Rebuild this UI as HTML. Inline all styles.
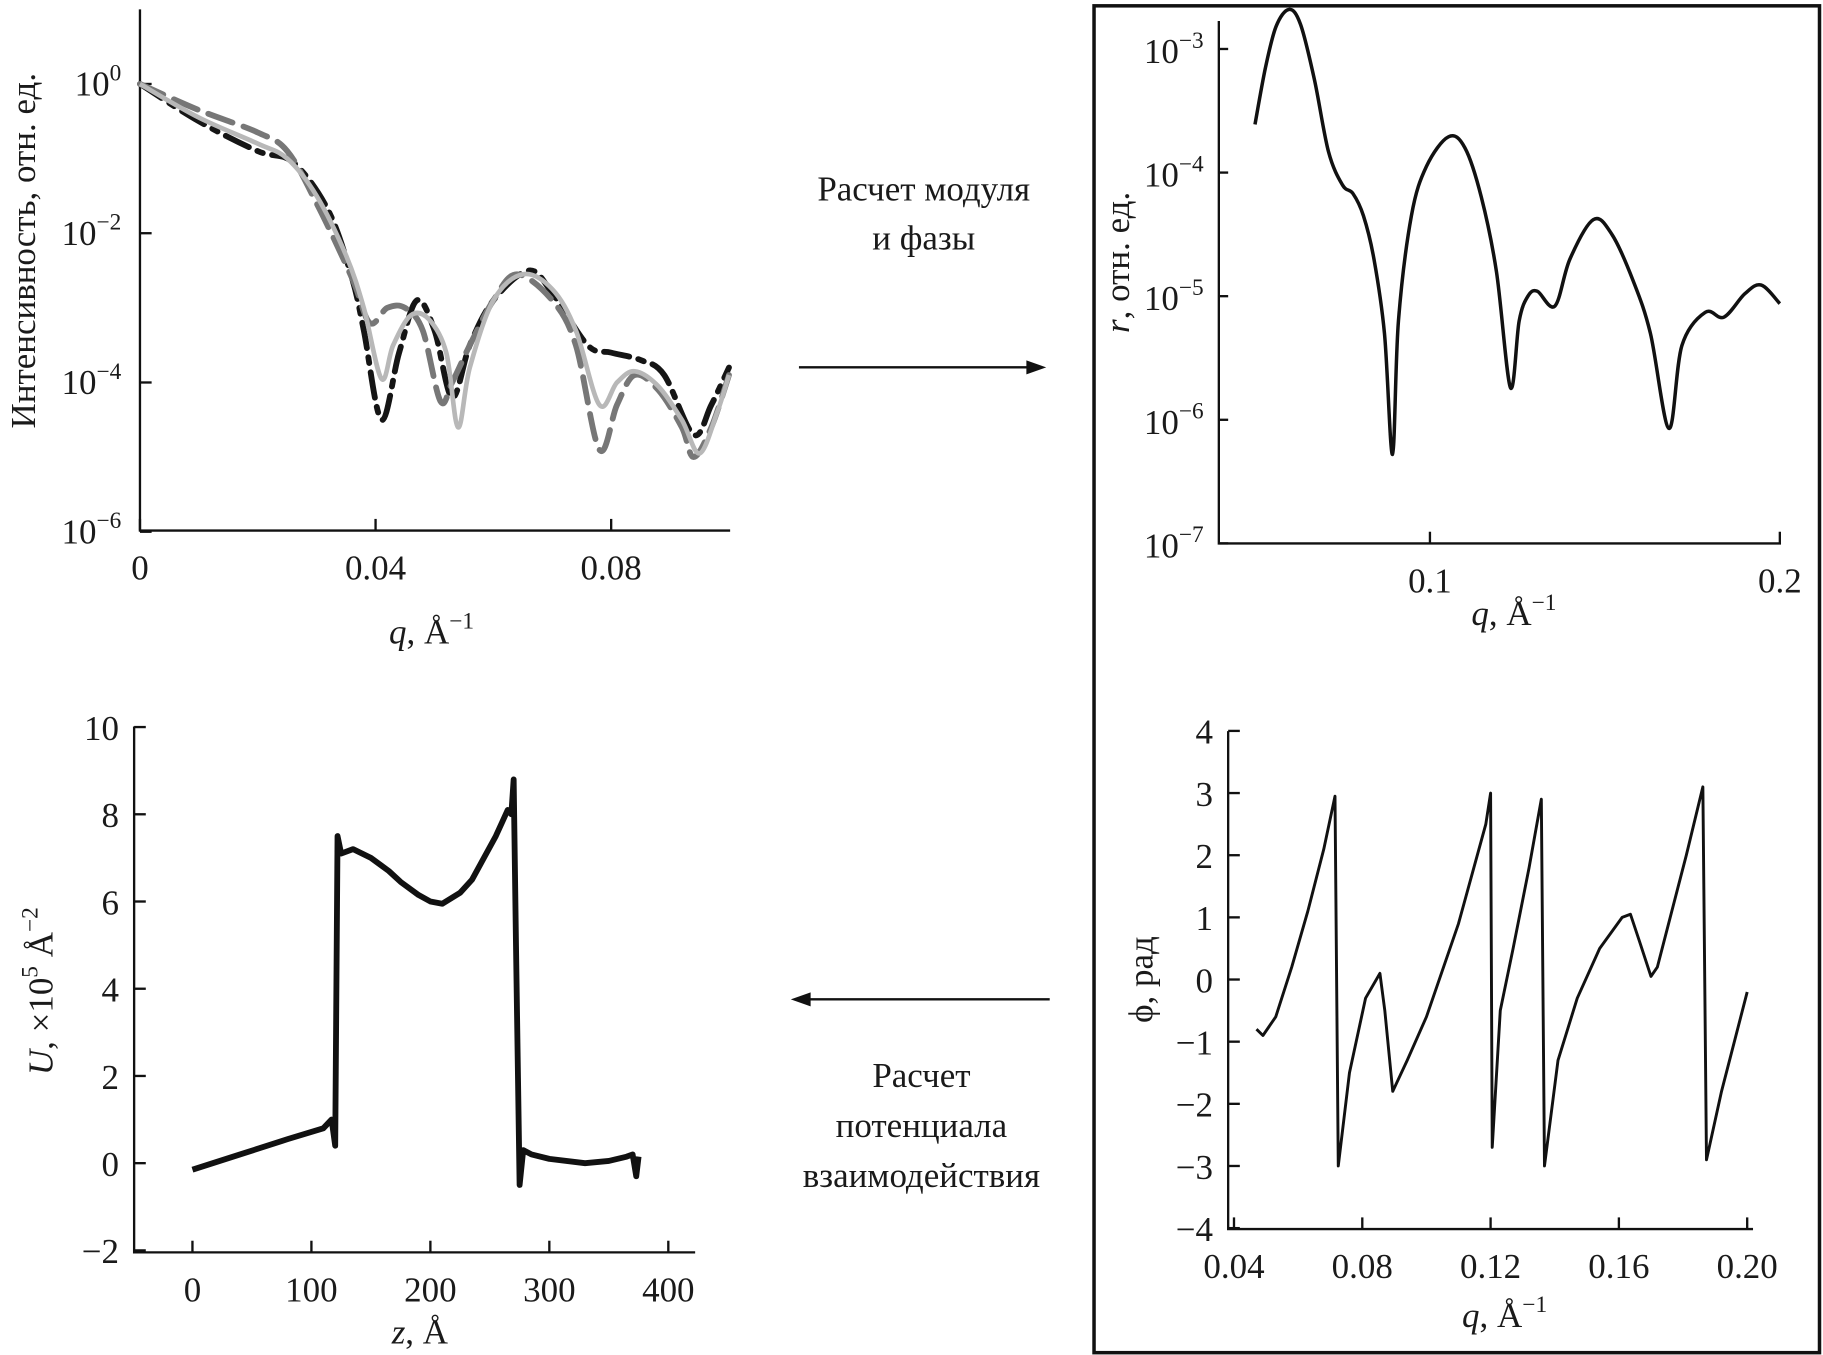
<!DOCTYPE html>
<html><head><meta charset="utf-8"><style>
html,body{margin:0;padding:0;background:#fff;}
svg{display:block;font-family:"Liberation Serif",serif;}
text{fill:#1a1a1a;}
</style></head><body>
<svg id="fig" width="1823" height="1355" viewBox="0 0 1563 1162" preserveAspectRatio="none">
<rect x="938" y="5" width="622" height="1155" fill="none" stroke="#111" stroke-width="3"/>
<g><line x1="685" y1="315" x2="885" y2="315" stroke="#111" stroke-width="2"/><path d="M897,315 L880,309 L880,321 Z" fill="#111"/></g>
<g><line x1="900" y1="857" x2="690" y2="857" stroke="#111" stroke-width="2"/><path d="M678,857 L695,851 L695,863 Z" fill="#111"/></g>
<g font-size="30" text-anchor="middle"><text x="792" y="172">Расчет модуля</text><text x="792" y="214">и фазы</text></g>
<g font-size="30" text-anchor="middle"><text x="790" y="932">Расчет</text><text x="790" y="975">потенциала</text><text x="790" y="1018">взаимодействия</text></g>
<g id="p1"></g>
<g id="p2"></g>
<g id="p3"></g>
<g id="p4"></g>
</svg>
<script>
// Panel 1 data (log10 intensity)
const p1SolidQ=[0,0.01,0.02,0.025,0.03,0.035,0.038,0.041,0.043,0.046,0.049,0.052,0.054,0.056,0.06,0.065,0.07,0.074,0.078,0.081,0.084,0.088,0.092,0.095,0.098,0.1];
const p1SolidV=[0,-0.45,-0.8,-1.0,-1.5,-2.3,-3.0,-3.95,-3.5,-3.1,-3.15,-3.6,-4.6,-3.8,-2.9,-2.55,-2.75,-3.3,-4.3,-4.0,-3.85,-4.05,-4.5,-4.95,-4.4,-3.9];
const p1DashQ=[0,0.01,0.02,0.025,0.03,0.036,0.039,0.042,0.045,0.048,0.051,0.053,0.056,0.06,0.064,0.07,0.074,0.078,0.081,0.084,0.088,0.092,0.094,0.097,0.1];
const p1DashV=[0,-0.35,-0.65,-0.9,-1.6,-2.6,-3.2,-3.0,-3.0,-3.3,-4.25,-4.0,-3.5,-2.9,-2.55,-2.9,-3.5,-4.9,-4.3,-3.9,-4.1,-4.6,-5.0,-4.6,-3.9];
const p1DotQ=[0,0.01,0.02,0.026,0.032,0.036,0.038,0.041,0.044,0.047,0.05,0.053,0.056,0.06,0.066,0.07,0.076,0.08,0.085,0.089,0.094,0.097,0.1];
const p1DotV=[0,-0.5,-0.9,-1.05,-1.7,-2.6,-3.3,-4.5,-3.6,-2.9,-3.3,-4.2,-3.5,-2.9,-2.5,-2.8,-3.5,-3.6,-3.7,-3.9,-4.7,-4.3,-3.8];
const p1YTicks=[0,-2,-4,-6];
const p1XTicks=[0,0.04,0.08];
// Panel 2 data (log10 r)
const p2Q=[0.05,0.053,0.056,0.0597,0.063,0.067,0.071,0.075,0.078,0.081,0.084,0.087,0.0893,0.091,0.0947,0.099,0.1053,0.11,0.1147,0.119,0.123,0.1255,0.128,0.1307,0.1357,0.14,0.1467,0.152,0.158,0.163,0.1683,0.172,0.1787,0.184,0.19,0.1947,0.2];
const p2V=[-3.61,-3.15,-2.82,-2.68,-2.8,-3.25,-3.83,-4.1,-4.17,-4.35,-4.7,-5.3,-6.28,-5.2,-4.35,-3.95,-3.71,-3.8,-4.2,-4.8,-5.74,-5.2,-5.0,-4.96,-5.08,-4.7,-4.38,-4.5,-4.87,-5.3,-6.07,-5.4,-5.13,-5.17,-4.98,-4.91,-5.06];
const p2YTicks=[-3,-4,-5,-6,-7];
const p2XTicks=[0.1,0.2];
// Panel 3 data (U vs z)
const p3Z=[0,40,80,110,117,120,122,125,135,150,165,175,190,200,210,225,235,245,255,260,265,268,270,272,275,278,285,300,330,350,365,370,373,375];
const p3U=[-0.15,0.2,0.55,0.8,1.0,0.4,7.5,7.1,7.2,7.0,6.7,6.45,6.15,6.0,5.95,6.2,6.5,7.0,7.5,7.8,8.1,8.0,8.8,5.0,-0.5,0.3,0.2,0.1,0.0,0.05,0.15,0.2,-0.3,0.15];
const p3YTicks=[10,8,6,4,2,0,-2];
const p3XTicks=[0,100,200,300,400];
// Panel 4 data (phase)
const p4Q=[0.047,0.049,0.053,0.058,0.063,0.068,0.0715,0.0725,0.076,0.081,0.0855,0.087,0.0895,0.094,0.1,0.11,0.1185,0.1200,0.1205,0.123,0.127,0.132,0.1358,0.1368,0.141,0.147,0.154,0.161,0.1636,0.1665,0.170,0.172,0.176,0.181,0.1862,0.1873,0.192,0.2];
const p4V=[-0.8,-0.9,-0.6,0.2,1.1,2.1,2.95,-3.0,-1.5,-0.3,0.1,-0.5,-1.8,-1.3,-0.6,0.9,2.5,3.0,-2.7,-0.5,0.5,1.8,2.9,-3.0,-1.3,-0.3,0.5,1.0,1.05,0.6,0.05,0.2,1.0,2.0,3.1,-2.9,-1.8,-0.2];
const p4YTicks=[4,3,2,1,0,-1,-2,-3,-4];
const p4XTicks=[0.04,0.08,0.12,0.16,0.20];

const NS="http://www.w3.org/2000/svg";
function mk(parent,tag,attrs){const e=document.createElementNS(NS,tag);for(const k in attrs)e.setAttribute(k,attrs[k]);parent.appendChild(e);return e;}
function pathD(xs,ys,fx,fy){return xs.map((x,i)=>(i?'L':'M')+fx(x).toFixed(1)+','+fy(ys[i]).toFixed(1)).join(' ');}
function smoothD(xs,ys,fx,fy){
 const P=xs.map((x,i)=>[fx(x),fy(ys[i])]);
 let d='M'+P[0][0].toFixed(1)+','+P[0][1].toFixed(1);
 for(let i=0;i<P.length-1;i++){
  const p0=P[i-1]||P[i],p1=P[i],p2=P[i+1],p3=P[i+2]||P[i+1];
  const c1=[p1[0]+(p2[0]-p0[0])/6,p1[1]+(p2[1]-p0[1])/6];
  const c2=[p2[0]-(p3[0]-p1[0])/6,p2[1]-(p3[1]-p1[1])/6];
  d+=' C'+c1.map(v=>v.toFixed(1)).join(',')+' '+c2.map(v=>v.toFixed(1)).join(',')+' '+p2[0].toFixed(1)+','+p2[1].toFixed(1);
 }
 return d;
}
function minus(v){return (v<0?'\u2212':'')+String(Math.abs(v));}

// Panel 1
(function(){
const g=document.getElementById('p1');
const x=q=>120+q*5050, y=v=>72-v*64;
const ax=mk(g,'path',{d:'M120,8 L120,455 L626,455',fill:'none',stroke:'#111','stroke-width':2});


p1YTicks.forEach(t=>{mk(g,'line',{x1:120,x2:130,y1:y(t),y2:y(t),stroke:'#111','stroke-width':2});
 const tx=mk(g,'text',{x:104,y:y(t)+10,'font-size':30,'text-anchor':'end'});
 
 
 tx.innerHTML='10<tspan dy="-13" font-size="20">'+minus(t)+'</tspan>';});
p1XTicks.forEach(t=>{mk(g,'line',{x1:x(t),x2:x(t),y1:455,y2:445,stroke:'#111','stroke-width':2});
 const tx=mk(g,'text',{x:x(t),y:497,'font-size':30,'text-anchor':'middle'});
 
 
 tx.textContent=String(t);});
const s1=mk(g,'path',{d:smoothD(p1DotQ,p1DotV,x,y),fill:'none',stroke:'#151515','stroke-width':5,'stroke-dasharray':'22 8 5 8','stroke-linecap':'round'});


const s2=mk(g,'path',{d:smoothD(p1DashQ,p1DashV,x,y),fill:'none',stroke:'#777','stroke-width':5,'stroke-dasharray':'22 10','stroke-linecap':'round'});


const s3=mk(g,'path',{d:smoothD(p1SolidQ,p1SolidV,x,y),fill:'none',stroke:'#b8b8b8','stroke-width':4,'stroke-linejoin':'round'});


const yl=mk(g,'text',{x:0,y:0,'font-size':30,'text-anchor':'middle',transform:'translate(30,215) rotate(-90)'});


yl.textContent='Интенсивность, отн. ед.';
const xl=mk(g,'text',{x:370,y:552,'font-size':30,'text-anchor':'middle'});


xl.innerHTML='<tspan font-style="italic">q</tspan>, Å<tspan dy="-13" font-size="20">\u22121</tspan>';
})();

// Panel 2
(function(){
const g=document.getElementById('p2');
const x=q=>1226+(q-0.1)*3000, y=v=>42-(v+3)*106;
const ax=mk(g,'path',{d:'M1045,18 L1045,466 L1527,466',fill:'none',stroke:'#111','stroke-width':2});


p2YTicks.forEach(t=>{mk(g,'line',{x1:1045,x2:1053,y1:y(t),y2:y(t),stroke:'#111','stroke-width':2});
 const tx=mk(g,'text',{x:1032,y:y(t)+12,'font-size':30,'text-anchor':'end'});
 
 
 tx.innerHTML='10<tspan dy="-13" font-size="20">'+minus(t)+'</tspan>';});
p2XTicks.forEach(t=>{mk(g,'line',{x1:x(t),x2:x(t),y1:466,y2:456,stroke:'#111','stroke-width':2});
 const tx=mk(g,'text',{x:x(t),y:508,'font-size':30,'text-anchor':'middle'});
 
 
 tx.textContent=String(t);});
const s=mk(g,'path',{d:smoothD(p2Q,p2V,x,y),fill:'none',stroke:'#111','stroke-width':3,'stroke-linejoin':'round'});


const yl=mk(g,'text',{x:0,y:0,'font-size':30,'text-anchor':'middle',transform:'translate(968,225) rotate(-90)'});


yl.innerHTML='<tspan font-style="italic">r</tspan>, отн. ед.';
const xl=mk(g,'text',{x:1298,y:536,'font-size':30,'text-anchor':'middle'});


xl.innerHTML='<tspan font-style="italic">q</tspan>, Å<tspan dy="-13" font-size="20">\u22121</tspan>';
})();

// Panel 3
(function(){
const g=document.getElementById('p3');
const x=z=>165+z*1.02, y=u=>997.5-u*37.4;
const ax=mk(g,'path',{d:'M115,623 L115,1074 L596,1074',fill:'none',stroke:'#111','stroke-width':2});


p3YTicks.forEach(t=>{mk(g,'line',{x1:115,x2:125,y1:y(t),y2:y(t),stroke:'#111','stroke-width':2});
 const tx=mk(g,'text',{x:102,y:y(t)+11,'font-size':30,'text-anchor':'end'});
 
 
 tx.textContent=minus(t);});
p3XTicks.forEach(t=>{mk(g,'line',{x1:x(t),x2:x(t),y1:1074,y2:1064,stroke:'#111','stroke-width':2});
 const tx=mk(g,'text',{x:x(t),y:1116,'font-size':30,'text-anchor':'middle'});
 
 
 tx.textContent=String(t);});
const s=mk(g,'path',{d:pathD(p3Z,p3U,x,y),fill:'none',stroke:'#111','stroke-width':5,'stroke-linejoin':'round'});


const yl=mk(g,'text',{x:0,y:0,'font-size':30,'text-anchor':'middle',transform:'translate(45,850) rotate(-90)'});


yl.innerHTML='<tspan font-style="italic">U</tspan>, ×10<tspan dy="-13" font-size="20">5</tspan><tspan dy="13"> Å</tspan><tspan dy="-13" font-size="20">\u22122</tspan>';
const xl=mk(g,'text',{x:360,y:1152,'font-size':30,'text-anchor':'middle'});


xl.innerHTML='<tspan font-style="italic">z</tspan>, Å';
})();

// Panel 4
(function(){
const g=document.getElementById('p4');
const x=q=>1058+(q-0.04)*2750, y=v=>840-v*53.3;
const ax=mk(g,'path',{d:'M1053,627 L1053,1054 L1503,1054',fill:'none',stroke:'#111','stroke-width':2});


p4YTicks.forEach(t=>{mk(g,'line',{x1:1053,x2:1063,y1:y(t),y2:y(t),stroke:'#111','stroke-width':2});
 const tx=mk(g,'text',{x:1040,y:y(t)+11,'font-size':30,'text-anchor':'end'});
 
 
 tx.textContent=minus(t);});
p4XTicks.forEach(t=>{mk(g,'line',{x1:x(t),x2:x(t),y1:1054,y2:1044,stroke:'#111','stroke-width':2});
 const tx=mk(g,'text',{x:x(t),y:1096,'font-size':30,'text-anchor':'middle'});
 
 
 tx.textContent=t.toFixed(2);});
const s=mk(g,'path',{d:pathD(p4Q,p4V,x,y),fill:'none',stroke:'#111','stroke-width':2.5,'stroke-linejoin':'round'});


const yl=mk(g,'text',{x:0,y:0,'font-size':30,'text-anchor':'middle',transform:'translate(988,840) rotate(-90)'});


yl.textContent='ϕ, рад';
const xl=mk(g,'text',{x:1290,y:1138,'font-size':30,'text-anchor':'middle'});


xl.innerHTML='<tspan font-style="italic">q</tspan>, Å<tspan dy="-13" font-size="20">\u22121</tspan>';
})();
</script>
</body></html>
